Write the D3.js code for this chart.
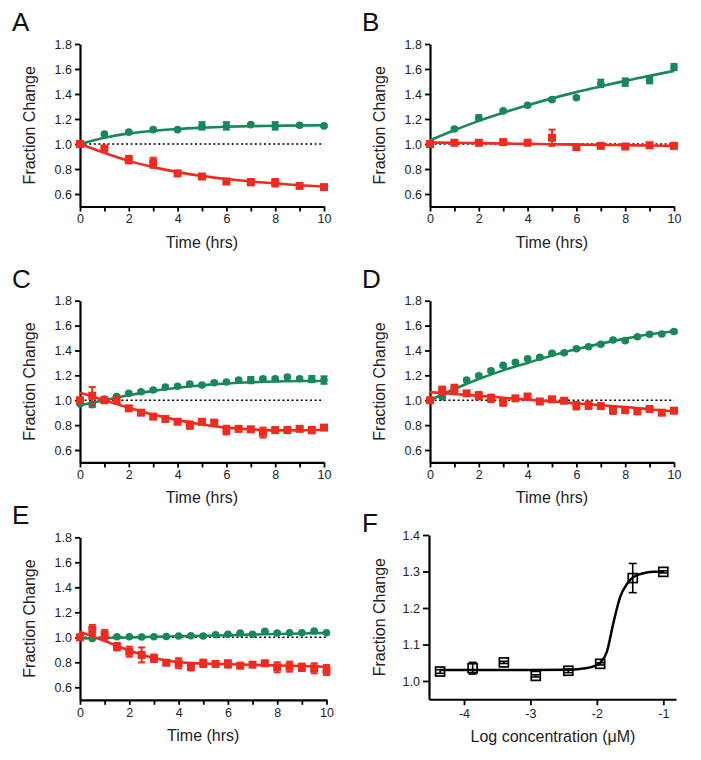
<!DOCTYPE html>
<html lang="en">
<head>
<meta charset="UTF-8">
<title>Fraction Change</title>
<script src="https://cdn.jsdelivr.net/npm/d3@7/dist/d3.min.js"></script>
<style>
  body { margin: 0; background: #fff; }
  svg { font-family: "Liberation Sans", Arial, sans-serif; }
</style>
</head>
<body>
<div id="box"></div>
<script>
// ---- data ----
const hours = [0, 1, 2, 3, 4, 5, 6, 7, 8, 9, 10];
const halfHours = [0, 0.5, 1, 1.5, 2, 2.5, 3, 3.5, 4, 4.5, 5, 5.5, 6, 6.5, 7, 7.5, 8, 8.5, 9, 9.5, 10];
const fitHours = [0, 1, 2, 3, 4, 5, 6, 7, 8, 9, 10];
const yTicks = [0.6, 0.8, 1.0, 1.2, 1.4, 1.6, 1.8];
const xTicks = [0, 1, 2, 3, 4, 5, 6, 7, 8, 9, 10];

// A
const aGreen    = [1.0, 1.08, 1.095, 1.115, 1.115, 1.145, 1.145, 1.155, 1.145, 1.15, 1.145];
const aGreenErr = [0, 0.01, 0.01, 0.01, 0.01, 0.03, 0.03, 0.01, 0.03, 0.01, 0.01];
const aRed      = [1.0, 0.965, 0.875, 0.85, 0.765, 0.74, 0.70, 0.695, 0.69, 0.665, 0.655];
const aRedErr   = [0, 0.015, 0.03, 0.04, 0.02, 0.015, 0.02, 0.025, 0.03, 0.015, 0.01];
const aGreenFit = [1.0, 1.05, 1.085, 1.105, 1.12, 1.13, 1.138, 1.143, 1.146, 1.148, 1.15];
const aRedFit   = [1.0, 0.93, 0.865, 0.815, 0.775, 0.745, 0.72, 0.70, 0.685, 0.67, 0.66];

// B
const bGreen    = [1.0, 1.12, 1.21, 1.265, 1.31, 1.355, 1.37, 1.485, 1.495, 1.51, 1.615];
const bGreenErr = [0, 0.01, 0.02, 0.01, 0.01, 0.01, 0.01, 0.03, 0.03, 0.025, 0.025];
const bRed      = [1.0, 1.01, 1.01, 1.015, 1.01, 1.05, 0.975, 0.985, 0.98, 0.99, 0.985];
const bRedErr   = [0, 0.01, 0.01, 0.015, 0.01, 0.065, 0.01, 0.01, 0.01, 0.01, 0.01];
const bGreenFit = [1.03, 1.11, 1.185, 1.25, 1.31, 1.365, 1.415, 1.46, 1.505, 1.545, 1.585];
const bRedFit   = [1.012, 1.009, 1.007, 1.004, 1.001, 0.998, 0.995, 0.993, 0.99, 0.988, 0.985];

// C
const cGreen    = [0.97, 0.965, 1.01, 1.03, 1.055, 1.068, 1.082, 1.106, 1.112, 1.13, 1.122, 1.141, 1.146, 1.162, 1.162, 1.173, 1.173, 1.187, 1.173, 1.17, 1.162];
const cGreenErr = [0, 0.02, 0.01, 0.01, 0.01, 0.01, 0.01, 0.01, 0.01, 0.01, 0.01, 0.01, 0.01, 0.01, 0.025, 0.01, 0.01, 0.01, 0.01, 0.025, 0.03];
const cRed      = [1.0, 1.036, 1.0, 1.0, 0.935, 0.90, 0.868, 0.85, 0.827, 0.80, 0.827, 0.82, 0.76, 0.77, 0.766, 0.74, 0.76, 0.76, 0.77, 0.76, 0.78];
const cRedErr   = [0, 0.07, 0.02, 0.01, 0.015, 0.015, 0.015, 0.01, 0.015, 0.03, 0.015, 0.02, 0.035, 0.02, 0.02, 0.04, 0.02, 0.02, 0.015, 0.025, 0.015];
const cGreenFit = [0.96, 1.0, 1.04, 1.075, 1.10, 1.12, 1.135, 1.145, 1.15, 1.155, 1.155];
const cRedFit   = [1.06, 1.0, 0.94, 0.885, 0.84, 0.805, 0.78, 0.765, 0.758, 0.758, 0.763];

// D
const dGreen    = [1.0, 1.027, 1.085, 1.162, 1.197, 1.237, 1.28, 1.305, 1.334, 1.345, 1.377, 1.382, 1.414, 1.43, 1.45, 1.484, 1.479, 1.51, 1.53, 1.532, 1.553];
const dGreenErr = [0, 0.01, 0.01, 0.01, 0.01, 0.01, 0.01, 0.01, 0.01, 0.01, 0.01, 0.01, 0.01, 0.01, 0.01, 0.01, 0.01, 0.01, 0.01, 0.01, 0.01];
const dRed      = [1.0, 1.08, 1.095, 1.055, 1.036, 1.015, 0.985, 1.015, 1.03, 0.99, 1.007, 0.996, 0.956, 0.96, 0.953, 0.92, 0.92, 0.91, 0.93, 0.90, 0.916];
const dRedErr   = [0, 0.03, 0.03, 0.015, 0.03, 0.03, 0.03, 0.01, 0.02, 0.02, 0.02, 0.015, 0.03, 0.03, 0.015, 0.03, 0.02, 0.015, 0.02, 0.015, 0.02];
const dGreenFit = [1.0, 1.09, 1.17, 1.24, 1.30, 1.36, 1.41, 1.455, 1.495, 1.53, 1.555];
const dRedFit   = [1.065, 1.05, 1.035, 1.02, 1.005, 0.99, 0.975, 0.96, 0.945, 0.928, 0.91];

// E
const eGreen    = [1.0, 0.99, 1.0, 1.005, 1.005, 1.003, 1.005, 1.007, 1.01, 1.013, 1.01, 1.02, 1.024, 1.035, 1.024, 1.048, 1.035, 1.037, 1.037, 1.05, 1.037];
const eGreenErr = [0, 0.005, 0.005, 0.005, 0.005, 0.005, 0.005, 0.005, 0.005, 0.005, 0.005, 0.005, 0.005, 0.005, 0.005, 0.005, 0.005, 0.005, 0.005, 0.005, 0.005];
const eRed      = [1.0, 1.059, 1.019, 0.925, 0.885, 0.859, 0.832, 0.797, 0.792, 0.765, 0.792, 0.787, 0.787, 0.773, 0.781, 0.792, 0.76, 0.765, 0.76, 0.752, 0.739];
const eRedErr   = [0, 0.04, 0.04, 0.03, 0.04, 0.06, 0.03, 0.02, 0.04, 0.03, 0.03, 0.01, 0.03, 0.01, 0.01, 0.02, 0.04, 0.04, 0.03, 0.04, 0.04];
const eGreenFit = [0.99, 0.995, 0.999, 1.004, 1.008, 1.013, 1.017, 1.022, 1.026, 1.031, 1.035];
const eRedFit   = [1.045, 0.97, 0.895, 0.835, 0.80, 0.79, 0.785, 0.78, 0.775, 0.77, 0.765];

// F (dose response)
const logConc  = [-4.36, -3.87, -3.40, -2.92, -2.43, -1.95, -1.46, -1.0];
const fValues  = [1.026, 1.035, 1.051, 1.014, 1.028, 1.047, 1.282, 1.299];
const fErr     = [0.005, 0.016, 0.003, 0.003, 0.005, 0.003, 0.04, 0.003];
const fFitX    = [-4.36, -3.0, -2.4, -2.2, -2.05, -1.95, -1.85, -1.75, -1.65, -1.55, -1.45, -1.3, -1.15, -1.0];
const fFitY    = [1.03, 1.03, 1.031, 1.034, 1.04, 1.05, 1.08, 1.16, 1.23, 1.265, 1.285, 1.295, 1.299, 1.30];
const fXTicks  = [-4, -3, -2, -1];
const fYTicks  = [1.0, 1.1, 1.2, 1.3, 1.4];

const GREEN = "#17885a";
const RED = "#ef2a1f";

const svg = d3.select("#box").append("svg").attr("width", 701).attr("height", 760);
svg.append("rect").attr("width", 701).attr("height", 760).attr("fill", "#fff");

function styleAxis(ax) {
  ax.select(".domain").attr("stroke", "#000").attr("stroke-width", 2.2);
  ax.selectAll(".tick line").attr("stroke", "#000").attr("stroke-width", 1.8);
  ax.selectAll(".tick text").attr("font-size", 12.5).attr("fill", "#222");
}

function errorBars(g, xs, ys, es, x, y, color, cap, w) {
  xs.forEach((t, i) => {
    if (!es[i]) return;
    const cx = x(t);
    const top = y(ys[i] + es[i]), bot = y(ys[i] - es[i]);
    g.append("line").attr("x1", cx).attr("x2", cx).attr("y1", top).attr("y2", bot)
      .attr("stroke", color).attr("stroke-width", w);
    [top, bot].forEach(yy => {
      g.append("line").attr("x1", cx - cap).attr("x2", cx + cap).attr("y1", yy).attr("y2", yy)
        .attr("stroke", color).attr("stroke-width", w);
    });
  });
}

function timePanel(p) {
  const g = svg.append("g");
  const x = d3.scaleLinear().domain([0, 10]).range([p.xL, p.xR]);
  const y05 = p.y06 + (p.y06 - p.y18) / 12;
  const y = d3.scaleLinear().domain([0.5, 1.8]).range([y05, p.y18]);

  // axes
  const yAx = g.append("g").attr("transform", `translate(${p.xL},0)`)
    .call(d3.axisLeft(y).tickValues(yTicks).tickFormat(d3.format(".1f")).tickSize(5).tickSizeOuter(0).tickPadding(3));
  styleAxis(yAx);
  const xAx = g.append("g").attr("transform", `translate(0,${y05})`)
    .call(d3.axisBottom(x).tickValues(xTicks).tickFormat(d => d % 2 === 0 ? d : "").tickSize(5).tickSizeOuter(0).tickPadding(3));
  styleAxis(xAx);

  // baseline at 1.0
  g.append("line").attr("x1", x(0)).attr("x2", x(10)).attr("y1", y(1)).attr("y2", y(1))
    .attr("stroke", "#000").attr("stroke-width", 1.6).attr("stroke-dasharray", "2,2.6");

  const line = d3.line().x(d => x(d[0])).y(d => y(d[1])).curve(d3.curveMonotoneX);

  // green series
  g.append("path").attr("d", line(fitHours.map((t, i) => [t, p.greenFit[i]])))
    .attr("fill", "none").attr("stroke", GREEN).attr("stroke-width", 2.6);
  errorBars(g, p.t, p.green, p.greenErr, x, y, GREEN, 3.5, 2);
  g.selectAll(null).data(p.t).enter().append("circle")
    .attr("cx", d => x(d)).attr("cy", (d, i) => y(p.green[i])).attr("r", 3.8).attr("fill", GREEN);

  // red series
  g.append("path").attr("d", line(fitHours.map((t, i) => [t, p.redFit[i]])))
    .attr("fill", "none").attr("stroke", RED).attr("stroke-width", 2.6);
  errorBars(g, p.t, p.red, p.redErr, x, y, RED, 3.5, 2);
  g.selectAll(null).data(p.t).enter().append("rect")
    .attr("x", d => x(d) - 4).attr("y", (d, i) => y(p.red[i]) - 4)
    .attr("width", 8).attr("height", 8).attr("fill", RED);

  // labels
  g.append("text").text("Time (hrs)").attr("x", (p.xL + p.xR) / 2).attr("y", y05 + 41)
    .attr("text-anchor", "middle").attr("font-size", 16).attr("fill", "#222");
  g.append("text").text("Fraction Change")
    .attr("transform", `translate(${p.xL - 45},${(y05 + p.y18) / 2}) rotate(-90)`)
    .attr("text-anchor", "middle").attr("font-size", 16).attr("fill", "#222");
  g.append("text").text(p.letter).attr("x", p.xL - 68).attr("y", p.y18 - 13)
    .attr("font-size", 26).attr("fill", "#111");
}

timePanel({ letter: "A", xL: 80, xR: 324, y18: 44, y06: 194, t: hours,
  green: aGreen, greenErr: aGreenErr, red: aRed, redErr: aRedErr, greenFit: aGreenFit, redFit: aRedFit });
timePanel({ letter: "B", xL: 430, xR: 674, y18: 44, y06: 194, t: hours,
  green: bGreen, greenErr: bGreenErr, red: bRed, redErr: bRedErr, greenFit: bGreenFit, redFit: bRedFit });
timePanel({ letter: "C", xL: 80, xR: 324, y18: 300.7, y06: 450, t: halfHours,
  green: cGreen, greenErr: cGreenErr, red: cRed, redErr: cRedErr, greenFit: cGreenFit, redFit: cRedFit });
timePanel({ letter: "D", xL: 430, xR: 674, y18: 300.7, y06: 450, t: halfHours,
  green: dGreen, greenErr: dGreenErr, red: dRed, redErr: dRedErr, greenFit: dGreenFit, redFit: dRedFit });
timePanel({ letter: "E", xL: 80, xR: 326.5, y18: 537.3, y06: 687.3, t: halfHours,
  green: eGreen, greenErr: eGreenErr, red: eRed, redErr: eRedErr, greenFit: eGreenFit, redFit: eRedFit });

// ---- panel F ----
{
  const g = svg.append("g");
  const x = d3.scaleLinear().domain([-4, -1]).range([464, 663.3]);
  const y = d3.scaleLinear().domain([1.0, 1.4]).range([681, 535]);
  const x0 = x.invert(429), x1 = x.invert(676);
  x.domain([x0, x1]).range([429, 676]);
  const yB = y(0.95);
  y.domain([0.95, 1.4]).range([yB, 535]);

  const yAx = g.append("g").attr("transform", "translate(429,0)")
    .call(d3.axisLeft(y).tickValues(fYTicks).tickFormat(d3.format(".1f")).tickSize(6).tickSizeOuter(0).tickPadding(3));
  styleAxis(yAx);
  const xAx = g.append("g").attr("transform", `translate(0,${yB})`)
    .call(d3.axisBottom(x).tickValues(fXTicks).tickFormat(d => String(d)).tickSize(6).tickSizeOuter(0).tickPadding(4));
  styleAxis(xAx);

  const line = d3.line().x(d => x(d[0])).y(d => y(d[1])).curve(d3.curveMonotoneX);
  g.append("path").attr("d", line(fFitX.map((v, i) => [v, fFitY[i]])))
    .attr("fill", "none").attr("stroke", "#000").attr("stroke-width", 2.5);
  errorBars(g, logConc, fValues, fErr, x, y, "#000", 4, 1.6);
  g.selectAll(null).data(logConc).enter().append("rect")
    .attr("x", d => x(d) - 4.5).attr("y", (d, i) => y(fValues[i]) - 4.5)
    .attr("width", 9).attr("height", 9).attr("fill", "none")
    .attr("stroke", "#000").attr("stroke-width", 1.7);

  g.append("text").text("Log concentration (\u03bcM)").attr("x", 553).attr("y", yB + 43)
    .attr("text-anchor", "middle").attr("font-size", 16).attr("fill", "#222");
  g.append("text").text("Fraction Change")
    .attr("transform", `translate(385,${(yB + 535) / 2}) rotate(-90)`)
    .attr("text-anchor", "middle").attr("font-size", 16).attr("fill", "#222");
  g.append("text").text("F").attr("x", 362).attr("y", 532).attr("font-size", 26).attr("fill", "#111");
}
</script>
</body>
</html>
